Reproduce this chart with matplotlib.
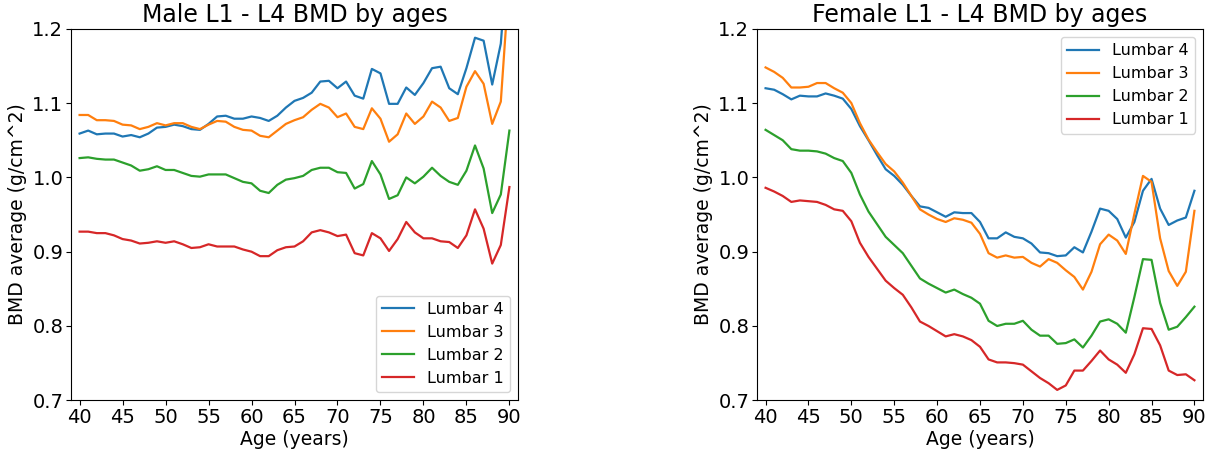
import matplotlib
matplotlib.use("Agg")
import matplotlib.pyplot as plt
import numpy as np

ages = list(range(40, 91))

male_l4 = [1.059, 1.063, 1.058, 1.059, 1.059, 1.055, 1.057, 1.054, 1.059, 1.067,
           1.068, 1.071, 1.069, 1.065, 1.064, 1.072, 1.082, 1.083, 1.079, 1.079,
           1.082, 1.080, 1.076, 1.083, 1.094, 1.103, 1.107, 1.114, 1.129, 1.130,
           1.120, 1.129, 1.110, 1.106, 1.146, 1.140, 1.099, 1.099, 1.121, 1.111,
           1.127, 1.147, 1.149, 1.120, 1.112, 1.147, 1.188, 1.184, 1.125, 1.180,
           1.330]
male_l3 = [1.084, 1.084, 1.077, 1.077, 1.076, 1.071, 1.070, 1.065, 1.068, 1.073,
           1.070, 1.073, 1.073, 1.068, 1.065, 1.071, 1.076, 1.075, 1.068, 1.064,
           1.063, 1.056, 1.054, 1.063, 1.072, 1.077, 1.081, 1.091, 1.099, 1.094,
           1.081, 1.086, 1.068, 1.065, 1.093, 1.079, 1.048, 1.058, 1.086, 1.072,
           1.082, 1.102, 1.094, 1.076, 1.080, 1.122, 1.143, 1.126, 1.072, 1.102,
           1.270]
male_l2 = [1.026, 1.027, 1.025, 1.024, 1.024, 1.020, 1.016, 1.009, 1.011, 1.015,
           1.010, 1.010, 1.006, 1.002, 1.001, 1.004, 1.004, 1.004, 0.999, 0.994,
           0.992, 0.982, 0.979, 0.990, 0.997, 0.999, 1.002, 1.010, 1.013, 1.013,
           1.007, 1.006, 0.985, 0.991, 1.022, 1.004, 0.971, 0.976, 1.000, 0.992,
           1.001, 1.013, 1.002, 0.994, 0.990, 1.009, 1.043, 1.012, 0.952, 0.977,
           1.063]
male_l1 = [0.927, 0.927, 0.925, 0.925, 0.922, 0.917, 0.915, 0.911, 0.912, 0.914,
           0.912, 0.914, 0.910, 0.905, 0.906, 0.910, 0.907, 0.907, 0.907, 0.903,
           0.900, 0.894, 0.894, 0.902, 0.906, 0.907, 0.914, 0.926, 0.929, 0.926,
           0.921, 0.923, 0.898, 0.895, 0.925, 0.918, 0.901, 0.917, 0.940, 0.926,
           0.918, 0.918, 0.914, 0.913, 0.905, 0.922, 0.957, 0.931, 0.884, 0.909,
           0.987]

female_l4 = [1.120, 1.118, 1.112, 1.105, 1.110, 1.109, 1.109, 1.113, 1.110, 1.106,
             1.092, 1.069, 1.050, 1.030, 1.011, 1.002, 0.990, 0.975, 0.961, 0.959,
             0.953, 0.947, 0.953, 0.952, 0.952, 0.940, 0.918, 0.918, 0.926, 0.920,
             0.918, 0.911, 0.899, 0.898, 0.894, 0.895, 0.906, 0.899, 0.927, 0.958,
             0.955, 0.944, 0.919, 0.940, 0.982, 0.998, 0.958, 0.936, 0.942, 0.946,
             0.982]
female_l3 = [1.148, 1.142, 1.134, 1.121, 1.121, 1.122, 1.127, 1.127, 1.120, 1.114,
             1.100, 1.073, 1.051, 1.034, 1.018, 1.008, 0.993, 0.975, 0.957, 0.950,
             0.944, 0.940, 0.945, 0.943, 0.939, 0.924, 0.898, 0.892, 0.895, 0.892,
             0.893, 0.885, 0.880, 0.890, 0.885, 0.875, 0.866, 0.849, 0.873, 0.910,
             0.923, 0.915, 0.897, 0.951, 1.002, 0.994, 0.918, 0.874, 0.854, 0.873,
             0.955]
female_l2 = [1.064, 1.057, 1.050, 1.038, 1.036, 1.036, 1.035, 1.032, 1.026, 1.022,
             1.006, 0.977, 0.954, 0.937, 0.920, 0.909, 0.898, 0.881, 0.864, 0.857,
             0.851, 0.845, 0.849, 0.843, 0.838, 0.830, 0.807, 0.800, 0.803, 0.803,
             0.807, 0.795, 0.787, 0.787, 0.776, 0.777, 0.782, 0.771, 0.787, 0.806,
             0.809, 0.803, 0.791, 0.839, 0.890, 0.889, 0.831, 0.795, 0.799, 0.812,
             0.826]
female_l1 = [0.986, 0.981, 0.975, 0.967, 0.969, 0.968, 0.967, 0.963, 0.957, 0.955,
             0.941, 0.912, 0.893, 0.877, 0.861, 0.851, 0.842, 0.825, 0.806, 0.800,
             0.793, 0.786, 0.789, 0.786, 0.781, 0.772, 0.755, 0.751, 0.751, 0.750,
             0.748, 0.739, 0.730, 0.723, 0.714, 0.720, 0.740, 0.740, 0.753, 0.767,
             0.755, 0.748, 0.737, 0.762, 0.797, 0.796, 0.774, 0.740, 0.734, 0.735,
             0.727]

labels = ["Lumbar 4", "Lumbar 3", "Lumbar 2", "Lumbar 1"]
titles = ["Male L1 - L4 BMD by ages", "Female L1 - L4 BMD by ages"]
xticks = [40, 45, 50, 55, 60, 65, 70, 75, 80, 85, 90]
yticks = [0.7, 0.8, 0.9, 1.0, 1.1, 1.2]

fig = plt.figure(figsize=(12.23, 4.57), dpi=100)
ax1 = fig.add_axes([71 / 1223, 56.7 / 457, 447 / 1223, 371.5 / 457])
ax2 = fig.add_axes([757 / 1223, 56.7 / 457, 446 / 1223, 371.5 / 457])

groups = [[male_l4, male_l3, male_l2, male_l1],
          [female_l4, female_l3, female_l2, female_l1]]
legend_locs = ["lower right", "upper right"]

for ax, series, title, loc in zip([ax1, ax2], groups, titles, legend_locs):
    for s, lab in zip(series, labels):
        ax.plot(ages, s, label=lab, linewidth=1.6)
    ax.set_xlim(39, 91)
    ax.set_ylim(0.7, 1.2)
    ax.set_xticks(xticks)
    ax.set_yticks(yticks)
    ax.set_yticklabels([f"{v:.1f}" for v in yticks])
    ax.tick_params(labelsize=14, pad=2)
    ax.set_title(title, fontsize=17, pad=5)
    ax.set_xlabel("Age (years)", fontsize=13.5, labelpad=2)
    ax.set_ylabel("BMD average (g/cm^2)", fontsize=13.5, labelpad=4)
    ax.legend(loc=loc, fontsize=11.5)

fig.savefig("out.png", dpi=100)
